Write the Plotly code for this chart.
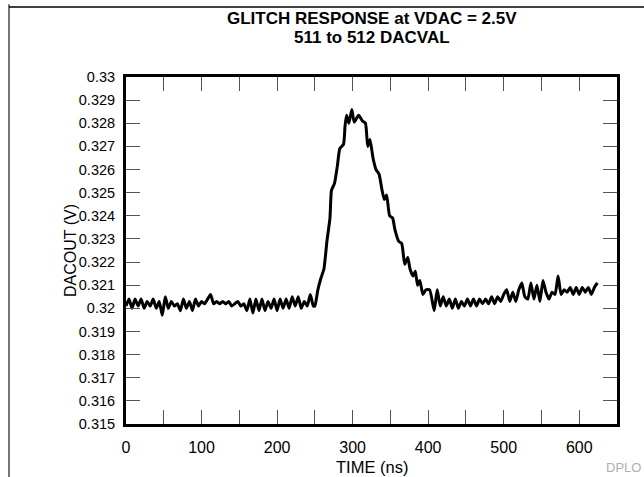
import plotly.graph_objects as go

# Glitch capture: DAC output voltage vs time (ns)
time_ns = [
    0, 4, 8, 12, 16, 20, 24, 28, 32, 36, 40, 44, 48, 52, 56, 60, 64, 68, 72, 76,
    80, 84, 88, 92, 96, 100, 104, 108, 112, 116, 120, 124, 128, 132, 136, 140,
    144, 148, 152, 156, 160, 164, 168, 172, 176, 180, 184, 188, 192, 196, 200,
    204, 208, 212, 216, 220, 224, 228, 232, 236, 240, 244, 248,
    250, 254, 258, 262, 266, 270, 272, 276, 280, 283, 288, 290, 292, 295, 299,
    302, 308, 313, 317, 320, 323, 327, 331, 335, 339, 342, 345, 349, 353, 356,
    361, 365, 369, 373, 376, 380, 383, 386, 389, 393, 397, 402, 408,
    412, 416, 420, 424, 428, 432, 436, 440, 444, 448, 452, 456, 460, 464, 468,
    472, 476, 480, 484, 488, 492, 496, 500, 504, 508, 512, 516, 520, 524, 528,
    532, 536, 540, 544, 548, 552, 556, 560, 564, 568, 572, 576, 580, 584, 588,
    592, 596, 600, 604, 608, 612, 616, 620, 624,
]
dacout_v = [
    0.3201, 0.3204, 0.3200, 0.3204, 0.3201, 0.3204, 0.3200, 0.3203, 0.3201, 0.3204,
    0.3200, 0.3203, 0.3197, 0.3205, 0.3200, 0.3203, 0.3201, 0.3202, 0.3199, 0.3204,
    0.3200, 0.3203, 0.3199, 0.3204, 0.3201, 0.3203, 0.3202, 0.3204, 0.3206, 0.3202,
    0.3203, 0.3202, 0.3203, 0.3202, 0.3203, 0.3201, 0.3202, 0.3203, 0.3201, 0.3202,
    0.3199, 0.3204, 0.3198, 0.3204, 0.3199, 0.3204, 0.3199, 0.3203, 0.3200, 0.3204,
    0.3199, 0.3204, 0.3200, 0.3204, 0.3200, 0.3205, 0.3201, 0.3205, 0.3200, 0.3203,
    0.3201, 0.3206, 0.3201,
    0.3201, 0.3208, 0.3213, 0.3217, 0.3229, 0.3239, 0.3251, 0.3254, 0.3262, 0.3269,
    0.3271, 0.3279, 0.32835, 0.3280, 0.3286, 0.32805, 0.32835, 0.3281, 0.3280, 0.3270,
    0.3273, 0.3265, 0.3260, 0.3258, 0.3251, 0.3247, 0.3249, 0.3240, 0.3239, 0.3234,
    0.3229, 0.3228, 0.3219, 0.3222, 0.3217, 0.3214, 0.3216, 0.3210, 0.3212, 0.3206,
    0.3208, 0.3208, 0.3199,
    0.3208, 0.3201, 0.3205, 0.3201, 0.3204, 0.3200, 0.3204, 0.3200, 0.3203, 0.3201,
    0.3204, 0.3201, 0.3204, 0.3201, 0.3204, 0.3202, 0.3204, 0.3202, 0.3205, 0.3202,
    0.3205, 0.3203, 0.3206, 0.3208, 0.3203, 0.3207, 0.3203, 0.3208, 0.3211, 0.3205,
    0.3204, 0.3211, 0.3204, 0.3210, 0.3203, 0.3212, 0.3207, 0.3204, 0.3207, 0.3206,
    0.3214, 0.3206, 0.3208, 0.3207, 0.3209, 0.3206, 0.3209, 0.3206, 0.3209, 0.3207,
    0.3209, 0.3206, 0.3209, 0.3211,
]

x_tickvals = [0, 50, 100, 150, 200, 250, 300, 350, 400, 450, 500, 550, 600, 650]
x_ticktext = ["0", "", "100", "", "200", "", "300", "", "400", "", "500", "", "600", ""]
y_tickvals = [0.315, 0.316, 0.317, 0.318, 0.319, 0.32, 0.321, 0.322,
              0.323, 0.324, 0.325, 0.326, 0.327, 0.328, 0.329, 0.33]
y_ticktext = ["0.315", "0.316", "0.317", "0.318", "0.319", "0.32", "0.321", "0.322",
              "0.323", "0.324", "0.325", "0.326", "0.327", "0.328", "0.329", "0.33"]

title_lines = ["GLITCH RESPONSE at VDAC = 2.5V", "511 to 512 DACVAL"]
x_title = "TIME (ns)"
y_title = "DACOUT (V)"

FONT = "Liberation Sans, Arial, Helvetica, sans-serif"

fig = go.Figure()
fig.add_trace(go.Scatter(
    x=time_ns, y=dacout_v, mode="lines",
    line=dict(color="black", width=3, shape="spline", smoothing=0.5),
    showlegend=False, hoverinfo="skip",
))

axis_common = dict(
    showline=True, linecolor="black", linewidth=3, mirror="ticks",
    ticks="inside", ticklen=14, tickwidth=1, tickcolor="#555",
    showgrid=False, zeroline=False,
)

fig.update_xaxes(
    range=[0, 650], tickmode="array", tickvals=x_tickvals, ticktext=x_ticktext,
    tickfont=dict(family=FONT, size=16, color="black"), ticklabelstandoff=7,
    **axis_common,
)
fig.update_yaxes(
    range=[0.315, 0.33], tickmode="array", tickvals=y_tickvals, ticktext=y_ticktext,
    tickfont=dict(family=FONT, size=14.5, color="black"), ticklabelstandoff=5,
    **axis_common,
)

fig.update_layout(
    width=644, height=477,
    margin=dict(l=126, r=27, t=77, b=53),
    paper_bgcolor="white", plot_bgcolor="white",
    shapes=[
        # page frame: left rule and top rule
        dict(type="line", xref="paper", yref="paper", x0=-0.2383, x1=-0.2383,
             y0=-0.16, y1=1.21, line=dict(color="#777", width=2)),
        dict(type="line", xref="paper", yref="paper", x0=-0.2383, x1=1.06,
             y0=1.2017, y1=1.2017, line=dict(color="black", width=1.5)),
    ],
    annotations=[
        dict(text="<b>%s</b>" % title_lines[0], xref="paper", yref="paper",
             x=0.5, y=1.170, xanchor="center", yanchor="middle", showarrow=False,
             font=dict(family=FONT, size=17, color="black")),
        dict(text="<b>%s</b>" % title_lines[1], xref="paper", yref="paper",
             x=0.5, y=1.115, xanchor="center", yanchor="middle", showarrow=False,
             font=dict(family=FONT, size=17, color="black")),
        dict(text=x_title, xref="paper", yref="paper",
             x=0.5, y=-0.123, xanchor="center", yanchor="middle", showarrow=False,
             font=dict(family=FONT, size=16.5, color="black")),
        dict(text=y_title, xref="paper", yref="paper", textangle=-90,
             x=-0.113, y=0.5, xanchor="center", yanchor="middle", showarrow=False,
             font=dict(family=FONT, size=16, color="black")),
        dict(text="DPLO", xref="paper", yref="paper", x=1.0525, y=-0.1268,
             xanchor="right", yanchor="middle", showarrow=False,
             font=dict(family=FONT, size=13, color="#b0b0b0")),
    ],
)

fig.write_html("out.html")
